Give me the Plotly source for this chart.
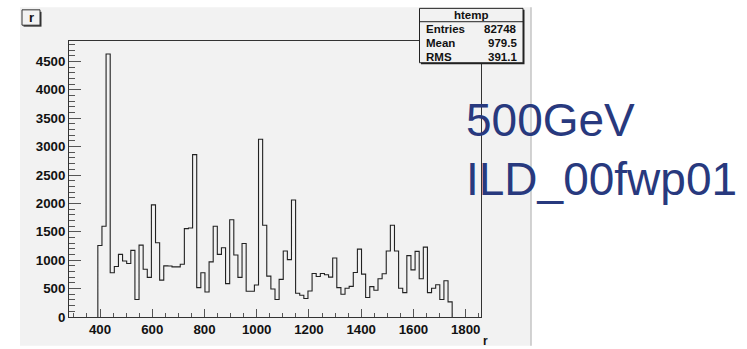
import plotly.graph_objects as go

# ---- data ----
x_min = 281.3
x_max = 1858.6
n_bins = 100
first_bin = 7
counts = [1260, 1597, 4630, 778, 888, 1103, 987, 941, 1173, 308,
          1266, 842, 697, 1974, 1307, 650, 900, 898, 883, 883,
          929, 1556, 1568, 2860, 517, 778, 441, 970, 1597, 1103,
          1220, 587, 1713, 1092, 697, 1295, 453, 453, 563, 3131,
          1615, 720, 494, 308, 662, 1162, 1010, 2061, 418, 383,
          325, 459, 767, 714, 767, 743, 703, 1039, 517, 401,
          505, 540, 784, 1196, 755, 343, 534, 470, 674, 761,
          1162, 1615, 1162, 505, 430, 1080, 830, 1156, 674, 1231,
          430, 505, 569, 308, 639, 267]
y_max = 4860
x_ticks = [400, 600, 800, 1000, 1200, 1400, 1600, 1800]
y_ticks = [0, 500, 1000, 1500, 2000, 2500, 3000, 3500, 4000, 4500]
stats_title = "htemp"
stats_names = ["Entries", "Mean", "RMS"]
stats_values = ["82748", "979.5", "391.1"]
overlay_lines = ["500GeV", "ILD_00fwp01"]

bw = (x_max - x_min) / n_bins
edges = [x_min + (first_bin + i) * bw for i in range(len(counts) + 1)]
xs = [edges[0]] + edges[:-1] + [edges[-1]]
ys = [0] + counts + [0]

# ---- layout geometry (pixels) ----
W_PX, H_PX = 747, 349
L, R, T, B = 69, 481, 41, 320
PW, PH = R - L, B - T


def px(x):
    return (x - L) / PW


def py(y):
    return (B - y) / PH


BG = "#f2f2f2"
FONT = "Liberation Sans"

fig = go.Figure()
fig.add_trace(go.Scatter(x=xs, y=ys, mode="lines", line_shape="hv",
                         line=dict(color="#222222", width=1.1),
                         hoverinfo="skip", showlegend=False))

shapes = []
# canvas
shapes.append(dict(type="rect", xref="paper", yref="paper", layer="below",
                   x0=px(20), x1=px(531), y0=py(7), y1=py(349),
                   fillcolor=BG, line=dict(width=0)))
shapes.append(dict(type="line", xref="paper", yref="paper", layer="below",
                   x0=px(531), x1=px(531), y0=py(7), y1=py(349),
                   line=dict(color="#c4c4c4", width=1.5)))
# title box "r" with shadow
shapes.append(dict(type="rect", xref="paper", yref="paper",
                   x0=px(23.5), x1=px(41.5), y0=py(11.5), y1=py(26.5),
                   fillcolor="#333333", line=dict(width=0)))
shapes.append(dict(type="rect", xref="paper", yref="paper",
                   x0=px(22), x1=px(40), y0=py(9.5), y1=py(25),
                   fillcolor=BG, line=dict(color="#333333", width=1)))
# stats box with shadow
shapes.append(dict(type="rect", xref="paper", yref="paper",
                   x0=px(421), x1=px(524.5), y0=py(9.5), y1=py(64.5),
                   fillcolor="#222222", line=dict(width=0)))
shapes.append(dict(type="rect", xref="paper", yref="paper",
                   x0=px(419.5), x1=px(523), y0=py(8), y1=py(63),
                   fillcolor=BG, line=dict(color="#222222", width=1)))
shapes.append(dict(type="line", xref="paper", yref="paper",
                   x0=px(419.5), x1=px(523), y0=py(21.5), y1=py(21.5),
                   line=dict(color="#222222", width=1)))

annotations = []
annotations.append(dict(x=px(31), y=py(17.5), xref="paper", yref="paper",
                        text="r", showarrow=False,
                        font=dict(family=FONT, size=13, color="#111111", weight="bold"),
                        xanchor="center", yanchor="middle"))
annotations.append(dict(x=px(471.5), y=py(14.5), xref="paper", yref="paper",
                        text=stats_title, showarrow=False,
                        font=dict(family=FONT, size=11.5, color="#111111", weight="bold"),
                        xanchor="center", yanchor="middle"))
row_y = [28.7, 42.7, 56.7]
for name, val, yy in zip(stats_names, stats_values, row_y):
    annotations.append(dict(x=px(423.5), y=py(yy), xref="paper", yref="paper",
                            text=name, showarrow=False,
                            font=dict(family=FONT, size=11.5, color="#111111", weight="bold"),
                            xanchor="left", yanchor="middle"))
    annotations.append(dict(x=px(518.5), y=py(yy), xref="paper", yref="paper",
                            text=val, showarrow=False,
                            font=dict(family=FONT, size=11.5, color="#111111", weight="bold"),
                            xanchor="right", yanchor="middle"))
# axis title r (just right of the last tick label)
annotations.append(dict(x=px(482), y=py(344), xref="paper", yref="paper",
                        text="r", showarrow=False, borderpad=0,
                        font=dict(family=FONT, size=12, color="#111111", weight="bold"),
                        xanchor="left", yanchor="middle"))
# overlay text
for txt, yy in zip(overlay_lines, [121, 180]):
    annotations.append(dict(x=px(464), y=py(yy), xref="paper", yref="paper",
                            text=txt, showarrow=False,
                            font=dict(family=FONT, size=46, color="#28397e"),
                            xanchor="left", yanchor="middle"))

tickfont = dict(family=FONT, size=13.3, color="#111111", weight="bold")

fig.update_layout(
    width=W_PX, height=H_PX,
    margin=dict(l=L, r=W_PX - R, t=T, b=H_PX - B, pad=0),
    paper_bgcolor="white", plot_bgcolor=BG,
    shapes=shapes, annotations=annotations,
    xaxis=dict(range=[x_min, x_max], tickvals=x_ticks,
               ticktext=[str(v) for v in x_ticks],
               ticks="inside", ticklen=8, tickcolor="#555555", tickwidth=1,
               minor=dict(ticks="inside", ticklen=4, dtick=50, tick0=0,
                          tickcolor="#555555", tickwidth=1, showgrid=False),
               showgrid=False, zeroline=False,
               showline=True, linecolor="#333333", linewidth=1, mirror=True,
               tickfont=tickfont),
    yaxis=dict(range=[0, y_max], tickvals=y_ticks,
               ticktext=[str(v) for v in y_ticks],
               ticks="inside", ticklen=12, tickcolor="#555555", tickwidth=1,
               minor=dict(ticks="inside", ticklen=6, dtick=100, tick0=0,
                          tickcolor="#555555", tickwidth=1, showgrid=False),
               showgrid=False, zeroline=False,
               showline=True, linecolor="#333333", linewidth=1, mirror=True,
               tickfont=tickfont),
)

fig.write_html("out.html")
